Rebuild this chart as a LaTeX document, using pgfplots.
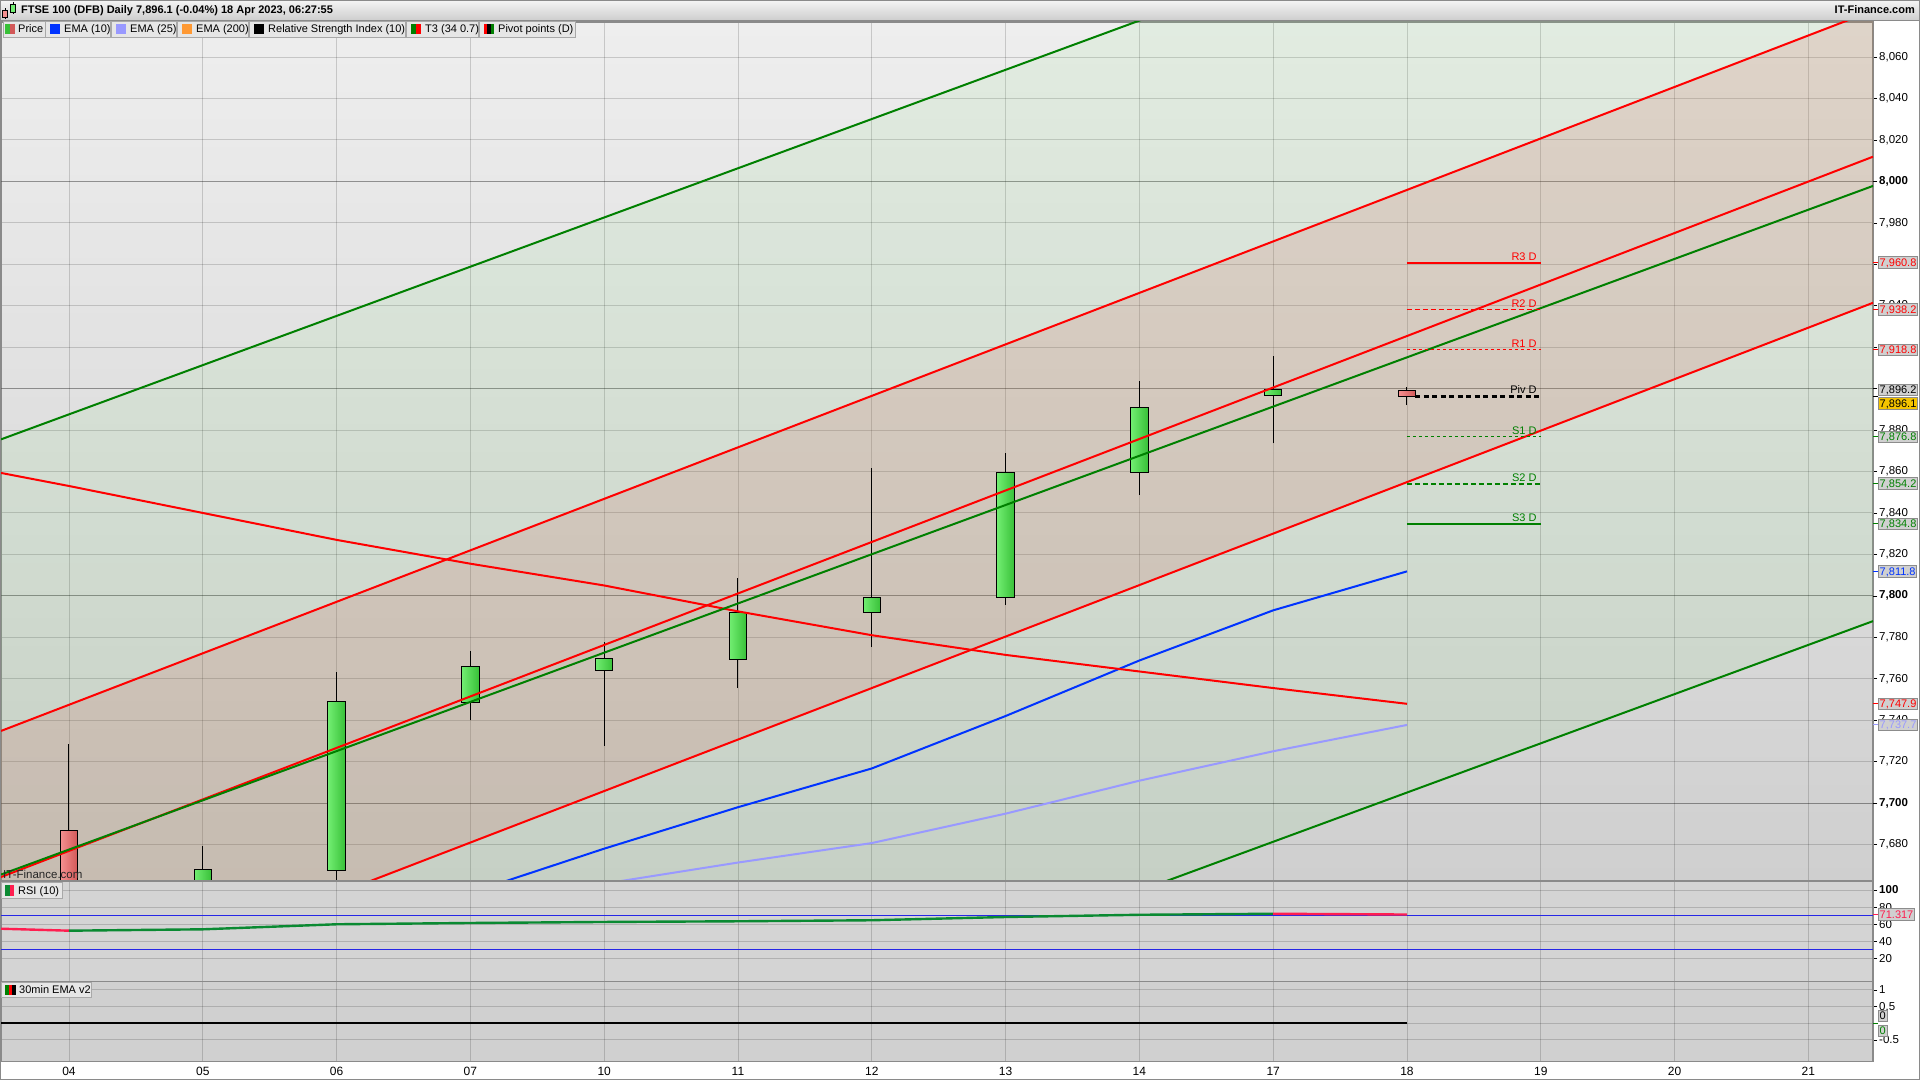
\documentclass[border=0pt]{standalone}
\usepackage{pgfplots}
\pgfplotsset{compat=1.18}
\usepackage{fontspec}
\setmainfont{Liberation Sans}
\definecolor{bgtop}{HTML}{EEEEEE}
\definecolor{bgbot}{HTML}{CFCFCF}
\definecolor{chgreen}{RGB}{120,220,113}
\definecolor{chred}{RGB}{205,75,64}
\definecolor{tred}{HTML}{FF0000}
\definecolor{tgreen}{HTML}{008000}
\definecolor{ema10}{HTML}{0033FF}
\definecolor{ema25}{HTML}{9999FF}
\definecolor{ema200}{HTML}{FF9933}
\definecolor{cgL}{HTML}{72EE72}
\definecolor{cgR}{HTML}{38C038}
\definecolor{crL}{HTML}{F49090}
\definecolor{crR}{HTML}{D25858}
\definecolor{rsigreen}{HTML}{0A8A32}
\definecolor{rsired}{HTML}{FF1E50}
\definecolor{rsiblue}{HTML}{2626E6}
\definecolor{pbox}{HTML}{D0D0D0}
\definecolor{pboxd}{HTML}{8C8C8C}
\definecolor{gold}{HTML}{F5C400}
\definecolor{lgbox}{HTML}{E6E6E6}
\definecolor{lgboxd}{HTML}{A8A8A8}
\definecolor{framegray}{HTML}{8A8A8A}
\definecolor{rsibg}{HTML}{D4D4D4}
\definecolor{embg}{HTML}{D0D0D0}
\newcommand{\fs}[1]{\fontsize{#1}{#1}\selectfont}
\pgfplotsset{
  panel/.style={scale only axis, width=1872pt, xmin=-0.508, xmax=13.483,
    axis line style={draw=framegray, line width=1.2pt},
    xtick={0,...,13}, xmajorgrids, ymajorgrids,
    grid style={black, opacity=0.16, line width=0.9pt},
    yticklabel pos=right, ytick pos=right, tick align=outside,
    major tick length=4pt,
    xtick style={draw=none}, ytick style={black, line width=0.6pt},
    /pgf/number format/assume math mode=true,
    yticklabel style={font=\fs{11.5}, anchor=west, inner sep=0pt, xshift=2pt},
    xticklabels={},
  },
}
\tikzset{vbox/.style={draw=pboxd, fill=pbox, inner sep=1.3pt, font=\fs{11}, anchor=west, line width=0.8pt, text height=8.3pt, text depth=0.5pt}}
\begin{document}
\begin{tikzpicture}
\path[use as bounding box] (0pt,0pt) rectangle (1920pt,1080pt);
% ---------------- price panel
\begin{axis}[panel, at={(1pt,199pt)}, anchor=south west, height=859pt,
  ymin=7662.4, ymax=8076.9,
  axis background/.style={top color=bgtop, bottom color=bgbot},
  ytick={7680,7700,7720,7740,7760,7780,7800,7820,7840,7860,7880,7900,7920,7940,7960,7980,8000,8020,8040,8060},
  yticklabels={{7,680},{\textbf{7,700}},{7,720},{7,740},{7,760},{7,780},{\textbf{7,800}},{7,820},{7,840},{7,860},{7,880},{},{},{7,940},{},{7,980},{\textbf{8,000}},{8,020},{8,040},{8,060}},
  extra y ticks={7700,7800,7900,8000}, extra y tick labels={},
  extra y tick style={grid style={black, opacity=0.26, line width=1pt}},
]
% channel fills
\addplot[draw=none, fill=chgreen, fill opacity=0.1] coordinates {(-0.508,7875.5) (13.483,8207.8) (13.483,7787.8) (-0.508,7455.5)} -- cycle;
\addplot[draw=none, fill=chred, fill opacity=0.15] coordinates {(-0.508,7734.8) (13.483,8082.4) (13.483,7941.4) (-0.508,7593.8)} -- cycle;
% wicks
\addplot[black, line width=1pt, unbounded coords=jump] coordinates {
(0,7640) (0,7728.3) (0,nan)
(1,7645) (1,7679.5) (1,nan)
(2,7655) (2,7763.4) (2,nan)
(3,7740.3) (3,7773.2) (3,nan)
(4,7727.5) (4,7777.5) (4,nan)
(5,7755.5) (5,7808.4) (5,nan)
(6,7775.3) (6,7861.8) (6,nan)
(7,7795.8) (7,7868.7) (7,nan)
(8,7848.6) (8,7903.5) (8,nan)
(9,7873.6) (9,7915.6) (9,nan)
(10,7892.0) (10,7900.9)};
% bodies
\addplot[draw=black, line width=1.1pt, left color=crL, right color=crR] coordinates {(-0.065,7686.6) (0.065,7686.6) (0.065,7650) (-0.065,7650)} -- cycle;
\addplot[draw=black, line width=1.1pt, left color=cgL, right color=cgR] coordinates {(0.935,7650) (1.065,7650) (1.065,7667.8) (0.935,7667.8)} -- cycle;
\addplot[draw=black, line width=1.1pt, left color=cgL, right color=cgR] coordinates {(1.935,7667.3) (2.065,7667.3) (2.065,7748.9) (1.935,7748.9)} -- cycle;
\addplot[draw=black, line width=1.1pt, left color=cgL, right color=cgR] coordinates {(2.935,7748.4) (3.065,7748.4) (3.065,7765.8) (2.935,7765.8)} -- cycle;
\addplot[draw=black, line width=1.1pt, left color=cgL, right color=cgR] coordinates {(3.935,7763.9) (4.065,7763.9) (4.065,7769.7) (3.935,7769.7)} -- cycle;
\addplot[draw=black, line width=1.1pt, left color=cgL, right color=cgR] coordinates {(4.935,7769.2) (5.065,7769.2) (5.065,7791.8) (4.935,7791.8)} -- cycle;
\addplot[draw=black, line width=1.1pt, left color=cgL, right color=cgR] coordinates {(5.935,7791.8) (6.065,7791.8) (6.065,7799.1) (5.935,7799.1)} -- cycle;
\addplot[draw=black, line width=1.1pt, left color=cgL, right color=cgR] coordinates {(6.935,7799.1) (7.065,7799.1) (7.065,7859.4) (6.935,7859.4)} -- cycle;
\addplot[draw=black, line width=1.1pt, left color=cgL, right color=cgR] coordinates {(7.935,7859.4) (8.065,7859.4) (8.065,7890.8) (7.935,7890.8)} -- cycle;
\addplot[draw=black, line width=1.1pt, left color=cgL, right color=cgR] coordinates {(8.935,7896.6) (9.065,7896.6) (9.065,7899.5) (8.935,7899.5)} -- cycle;
\addplot[draw=black, line width=1.1pt, left color=crL, right color=crR] coordinates {(9.935,7899.0) (10.065,7899.0) (10.065,7896.1) (9.935,7896.1)} -- cycle;
% EMAs
\addplot[ema25, line width=2pt] coordinates {(3,7651) (4,7661.1) (5,7671.3) (6,7680.7) (7,7694.9) (8,7710.8) (9,7725.0) (10,7737.7)};
\addplot[ema10, line width=2pt] coordinates {(2,7636) (3,7656.7) (4,7678) (5,7698) (6,7716.7) (7,7742) (8,7768.8) (9,7793) (10,7811.8)};
% declining red
\addplot[tred, line width=2pt] coordinates {(-0.508,7859.3) (0,7853) (1,7840) (2,7827) (3,7815.5) (4,7805) (5,7792.5) (6,7781) (7,7771.5) (8,7763.5) (9,7755.5) (10,7747.9)};
% T3 channels
\addplot[tred, line width=2pt] coordinates {(-0.508,7734.8) (13.483,8082.4)};
\addplot[tred, line width=2pt] coordinates {(-0.508,7664.3) (13.483,8011.9)};
\addplot[tred, line width=2pt] coordinates {(-0.508,7593.8) (13.483,7941.4)};
\addplot[tgreen, line width=2pt] coordinates {(-0.508,7875.5) (13.483,8207.8)};
\addplot[tgreen, line width=2pt] coordinates {(-0.508,7665.5) (13.483,7997.8)};
\addplot[tgreen, line width=2pt] coordinates {(-0.508,7455.5) (13.483,7787.8)};
% pivots
\addplot[tred, line width=2pt] coordinates {(10,7960.8) (11,7960.8)};
\addplot[tred, line width=1.8pt, dash pattern=on 5pt off 3pt] coordinates {(10,7938.2) (11,7938.2)};
\addplot[tred, line width=1pt, dash pattern=on 3.5pt off 2.5pt] coordinates {(10,7918.8) (11,7918.8)};
\addplot[black, line width=2.2pt, dash pattern=on 5pt off 3.5pt] coordinates {(10.06,7896.2) (11,7896.2)};
\addplot[tgreen, line width=1pt, dash pattern=on 3.5pt off 2.5pt] coordinates {(10,7876.8) (11,7876.8)};
\addplot[tgreen, line width=2pt, dash pattern=on 5pt off 3pt] coordinates {(10,7854.2) (11,7854.2)};
\addplot[tgreen, line width=2pt] coordinates {(10,7834.8) (11,7834.8)};
\begin{scope}[font=\fs{11}, inner sep=0pt]
\node[text=tred, anchor=south east] at (axis cs:10.97,7961.8) {R3 D};
\node[text=tred, anchor=south east] at (axis cs:10.97,7939.2) {R2 D};
\node[text=tred, anchor=south east] at (axis cs:10.97,7919.8) {R1 D};
\node[text=black, anchor=south east] at (axis cs:10.97,7897.6) {Piv D};
\node[text=tgreen, anchor=south east] at (axis cs:10.97,7877.8) {S1 D};
\node[text=tgreen, anchor=south east] at (axis cs:10.97,7855.2) {S2 D};
\node[text=tgreen, anchor=south east] at (axis cs:10.97,7835.8) {S3 D};
\end{scope}
\coordinate (v1) at (axis cs:13.483,7960.8);
\coordinate (v2) at (axis cs:13.483,7938.2);
\coordinate (v3) at (axis cs:13.483,7918.8);
\coordinate (v4) at (axis cs:13.483,7896.2);
\coordinate (v5) at (axis cs:13.483,7876.8);
\coordinate (v6) at (axis cs:13.483,7854.2);
\coordinate (v7) at (axis cs:13.483,7834.8);
\coordinate (v8) at (axis cs:13.483,7811.8);
\coordinate (v9) at (axis cs:13.483,7747.9);
\coordinate (v10) at (axis cs:13.483,7737.7);
\end{axis}
% ---------------- RSI panel
\begin{axis}[panel, at={(1pt,98.3pt)}, anchor=south west, height=100.7pt,
  ymin=-7.25, ymax=110.5,
  axis background/.style={fill=rsibg},
  ytick={20,40,60,80,100}, yticklabels={20,40,60,80,\textbf{100}},
]
\addplot[rsiblue, line width=1.2pt] coordinates {(-0.508,70) (13.483,70)};
\addplot[rsiblue, line width=1.2pt] coordinates {(-0.508,30) (13.483,30)};
\addplot[rsired, line width=2.4pt] coordinates {(-0.508,54.7) (0,52.4)};
\addplot[rsigreen, line width=2.4pt] coordinates {(0,52.4) (1,54.0) (2,59.9) (3,61.4) (4,62.6) (5,63.4) (6,64.6) (7,68.4) (8,71.0) (9,72.2)};
\addplot[rsired, line width=2.4pt] coordinates {(9,72.2) (10,71.3)};
\coordinate (rv) at (axis cs:13.483,71.317);
\end{axis}
% ---------------- 30min EMA panel
\begin{axis}[panel, at={(1pt,18.7pt)}, anchor=south west, height=79.6pt,
  ymin=-1.14, ymax=1.245,
  axis background/.style={fill=embg},
  ytick={-0.5,0,0.5,1}, yticklabels={{-0.5},{},{0.5},{1}},
  xticklabels={04,05,06,07,10,11,12,13,14,17,18,19,20,21},
  xticklabel style={font=\fs{12}, text height=8.6pt, text depth=0pt, inner sep=0pt, anchor=north, yshift=-1pt},
]
\addplot[black, line width=1.6pt] coordinates {(-0.508,0) (10,0)};
\coordinate (ev) at (axis cs:13.483,0);
\end{axis}
\begin{scope}[x=1pt, y=1pt]
% ---------------- value boxes
\draw[tred, line width=1pt] (v1) -- ++(5,0); \node[vbox, text=tred] at ([xshift=5pt]v1) {7,960.8};
\draw[tred, line width=1pt] (v2) -- ++(5,0); \node[vbox, text=tred] at ([xshift=5pt]v2) {7,938.2};
\draw[tred, line width=1pt] (v3) -- ++(5,0); \node[vbox, text=tred] at ([xshift=5pt]v3) {7,918.8};
\draw[black, line width=1pt] (v4) -- ++(5,0); \node[vbox, text=black] at ([xshift=5pt,yshift=6.5pt]v4) {7,896.2};
\node[vbox, text=black, fill=gold] at ([xshift=5pt,yshift=-7pt]v4) {7,896.1};
\draw[tgreen, line width=1pt] (v5) -- ++(5,0); \node[vbox, text=tgreen] at ([xshift=5pt]v5) {7,876.8};
\draw[tgreen, line width=1pt] (v6) -- ++(5,0); \node[vbox, text=tgreen] at ([xshift=5pt]v6) {7,854.2};
\draw[tgreen, line width=1pt] (v7) -- ++(5,0); \node[vbox, text=tgreen] at ([xshift=5pt]v7) {7,834.8};
\draw[ema10, line width=1pt] (v8) -- ++(5,0); \node[vbox, text=ema10] at ([xshift=5pt]v8) {7,811.8};
\draw[tred, line width=1pt] (v9) -- ++(5,0); \node[vbox, text=tred] at ([xshift=5pt]v9) {7,747.9};
\draw[ema25, line width=1pt] (v10) -- ++(5,0); \node[vbox, text=ema25] at ([xshift=5pt]v10) {7,737.7};
\draw[rsired, line width=1pt] (rv) -- ++(5,0); \node[vbox, text=rsired] at ([xshift=5pt]rv) {71.317};
\draw[tgreen, line width=1pt] (ev) -- ++(5,0);
\node[vbox, text=black] at ([xshift=5pt,yshift=7.5pt]ev) {0};
\node[vbox, text=tgreen] at ([xshift=5pt,yshift=-7.5pt]ev) {0};
% ---------------- watermark and panel labels
\node[anchor=base west, inner sep=0pt, font=\fs{11.5}, text=black!85] at (3,202) {IT-Finance.com};
\draw[fill=lgbox, draw=lgboxd, line width=0.8pt] (1,182) rectangle (62,197.5);
\fill[rsigreen] (5,184.5) rectangle (9.5,195); \fill[rsired] (9.5,184.5) rectangle (14,195);
\node[anchor=base west, inner sep=0pt, font=\fs{11}] at (18,186) {RSI (10)};
\draw[fill=lgbox, draw=lgboxd, line width=0.8pt] (1,82.5) rectangle (91,98);
\fill[tgreen] (5,85) rectangle (8.7,95.5); \fill[tred] (8.7,85) rectangle (12.3,95.5); \fill[black] (12.3,85) rectangle (16,95.5);
\node[anchor=base west, inner sep=0pt, font=\fs{11}] at (19,86.5) {30min EMA v2};
% ---------------- header
\shade[top color=white!96!black, bottom color=white!80!black] (0,1059) rectangle (1920,1080);
\draw[framegray, line width=1pt] (0,1059) -- (1920,1059);
\draw[black, line width=0.6pt] (5,1061) -- (5,1072); \draw[black, line width=0.6pt] (13,1066) -- (13,1078);
\draw[black, line width=0.5pt, fill=crL] (2.5,1063) rectangle (7.5,1069.5);
\draw[black, line width=0.5pt, fill=cgL] (10.5,1068) rectangle (15.5,1076);
\node[anchor=base west, inner sep=0pt, font=\bfseries\fs{11}] at (21,1066) {FTSE 100 (DFB) Daily 7,896.1 (-0.04\%) 18 Apr 2023, 06:27:55};
\node[anchor=base east, inner sep=0pt, font=\bfseries\fs{11}] at (1915,1066) {IT-Finance.com};
% ---------------- legend row
\begin{scope}[font=\fs{11}]
\draw[fill=lgbox, draw=lgboxd, line width=0.8pt] (3,1043) rectangle (45,1058.5);
\fill[cgR] (5,1045.5) rectangle (10,1056); \fill[crR] (10,1045.5) rectangle (15,1056);
\node[anchor=base west, inner sep=0pt] at (18,1047) {Price};
\draw[fill=lgbox, draw=lgboxd, line width=0.8pt] (45,1043) rectangle (110,1058.5);
\fill[ema10] (50,1045.5) rectangle (60,1056);
\node[anchor=base west, inner sep=0pt] at (64,1047) {EMA (10)};
\draw[fill=lgbox, draw=lgboxd, line width=0.8pt] (111,1043) rectangle (176,1058.5);
\fill[ema25] (116,1045.5) rectangle (126,1056);
\node[anchor=base west, inner sep=0pt] at (130,1047) {EMA (25)};
\draw[fill=lgbox, draw=lgboxd, line width=0.8pt] (177,1043) rectangle (248,1058.5);
\fill[ema200] (182,1045.5) rectangle (192,1056);
\node[anchor=base west, inner sep=0pt] at (196,1047) {EMA (200)};
\draw[fill=lgbox, draw=lgboxd, line width=0.8pt] (249,1043) rectangle (405,1058.5);
\fill[black] (254,1045.5) rectangle (264,1056);
\node[anchor=base west, inner sep=0pt] at (268,1047) {Relative Strength Index (10)};
\draw[fill=lgbox, draw=lgboxd, line width=0.8pt] (406,1043) rectangle (478,1058.5);
\fill[tgreen] (411,1045.5) rectangle (416,1056); \fill[tred] (416,1045.5) rectangle (421,1056);
\node[anchor=base west, inner sep=0pt] at (425,1047) {T3 (34 0.7)};
\draw[fill=lgbox, draw=lgboxd, line width=0.8pt] (479,1043) rectangle (575,1058.5);
\fill[tred] (484,1045.5) rectangle (487.3,1056); \fill[black] (487.3,1045.5) rectangle (490.7,1056); \fill[tgreen] (490.7,1045.5) rectangle (494,1056);
\node[anchor=base west, inner sep=0pt] at (498,1047) {Pivot points (D)};
\end{scope}
% outer frame
\draw[framegray, line width=1pt] (0.5,0.5) rectangle (1919.5,1079.5);
\end{scope}
\end{tikzpicture}
\end{document}
